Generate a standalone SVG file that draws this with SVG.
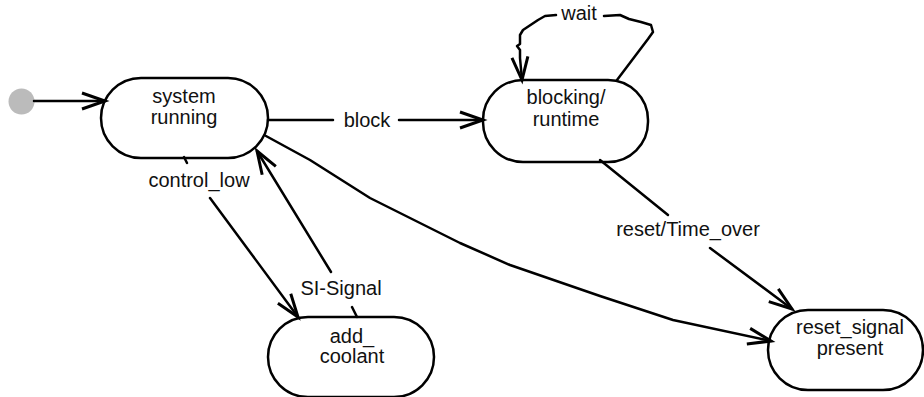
<svg xmlns="http://www.w3.org/2000/svg" width="924" height="397" viewBox="0 0 924 397">
  <style>
    .state { fill: #fff; stroke: #000; stroke-width: 2.5; }
    .label { font-family: "Liberation Sans", Arial, sans-serif; font-size: 20px; fill: #111; text-anchor: middle; }
    .edge { fill: none; stroke: #000; stroke-width: 2.5; stroke-linejoin: round; stroke-linecap: round; }
  </style>
  <defs>
    <marker id="open-arrow" markerUnits="userSpaceOnUse" markerWidth="30" markerHeight="22" refX="26" refY="11" orient="auto" overflow="visible">
      <path d="M3,3 L26,11 L3,19" fill="none" stroke="#000" stroke-width="3" stroke-linejoin="miter"/>
    </marker>
  </defs>

  <rect width="924" height="397" fill="#fff"/>

  <!-- initial pseudo-state -->
  <g id="initial">
    <circle cx="21.5" cy="101.5" r="13" fill="#bbbbbb"/>
  </g>

  <g id="system-running">
    <rect class="state" x="101" y="78" width="167" height="80" rx="40" ry="40"/>
    <text class="label" x="184" y="103">system</text>
    <text class="label" x="184" y="124">running</text>
  </g>

  <g id="blocking-runtime">
    <rect class="state" x="483" y="80" width="165" height="82" rx="40" ry="40"/>
    <text class="label" x="566" y="104">blocking/</text>
    <text class="label" x="566" y="126">runtime</text>
  </g>

  <g id="add-coolant">
    <rect class="state" x="268" y="317" width="166" height="80" rx="40" ry="40"/>
    <text class="label" x="352" y="343">add_</text>
    <text class="label" x="352" y="363">coolant</text>
  </g>

  <g id="reset-signal-present">
    <rect class="state" x="768" y="310" width="155" height="80" rx="40" ry="40"/>
    <text class="label" x="850" y="334">reset_signal</text>
    <text class="label" x="850" y="355">present</text>
  </g>

  <g id="connectors">
    <!-- start -->
    <line class="edge" x1="34" y1="101" x2="105" y2="101" marker-end="url(#open-arrow)"/>

    <!-- block -->
    <line class="edge" x1="268" y1="120" x2="333" y2="120"/>
    <text class="label" x="367" y="127">block</text>
    <line class="edge" x1="399" y1="120" x2="483" y2="120" marker-end="url(#open-arrow)"/>

    <!-- wait (self loop) -->
    <polyline class="edge" points="617,80 648,39 653,32 651,25 641,22 629,19 620,15 604,16"/>
    <text class="label" x="579" y="20">wait</text>
    <polyline class="edge" points="556,15 545,16 538,20 523,30 520,35 520,44 517,46 520,50 520,58 522,80" marker-end="url(#open-arrow)"/>

    <!-- control_low -->
    <line class="edge" x1="184" y1="157" x2="187" y2="163"/>
    <text class="label" x="199" y="187">control_low</text>
    <line class="edge" x1="210" y1="198" x2="298" y2="317" marker-end="url(#open-arrow)"/>

    <!-- SI-Signal -->
    <line class="edge" x1="352" y1="307" x2="357" y2="317"/>
    <text class="label" x="341" y="295">SI-Signal</text>
    <line class="edge" x1="331" y1="272" x2="257" y2="151" marker-end="url(#open-arrow)"/>

    <!-- system running to reset_signal present -->
    <polyline class="edge" points="266,136 310,160 370,198 460,243 510,265 600,296 673,320 771,341" marker-end="url(#open-arrow)"/>

    <!-- reset/Time_over -->
    <line class="edge" x1="600" y1="160" x2="668" y2="215"/>
    <text class="label" x="688" y="236">reset/Time_over</text>
    <line class="edge" x1="710" y1="248" x2="792" y2="309" marker-end="url(#open-arrow)"/>
  </g>
</svg>
